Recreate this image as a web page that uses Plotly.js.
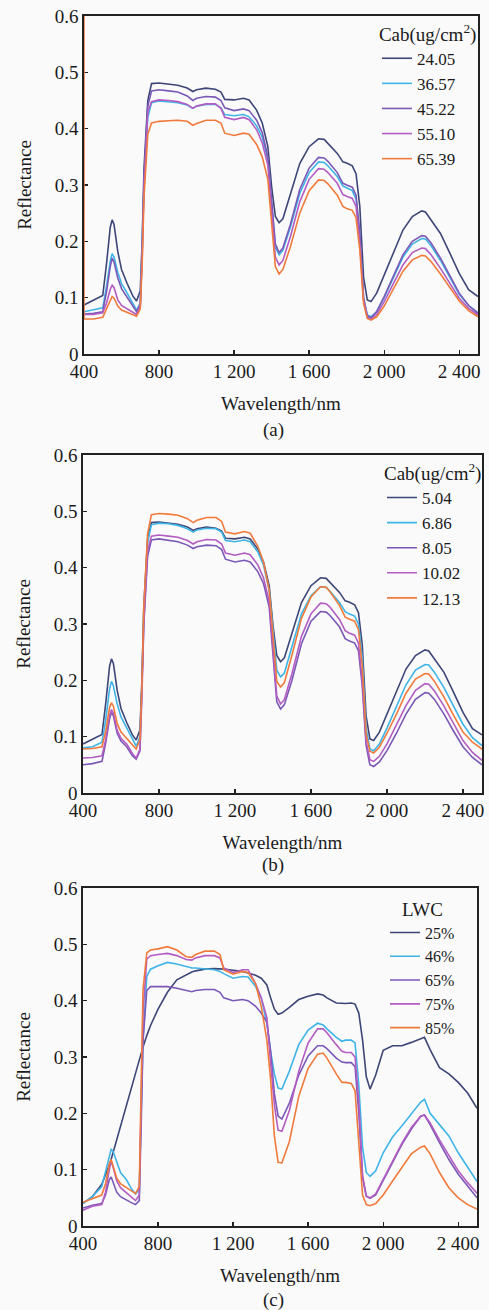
<!DOCTYPE html>
<html>
<head>
<meta charset="utf-8">
<script src="https://cdn.plot.ly/plotly-3.0.1.min.js"></script>
<style>
html,body{margin:0;padding:0;background:#fafafa;}
#chart{width:489px;height:1310px;}
</style>
</head>
<body>
<div id="chart"></div>
<script>
// Wavelength grid (nm)
const wl = [400,450,500,520,540,550,560,580,600,630,660,680,700,710,720,740,760,800,850,900,
  950,980,1000,1050,1100,1130,1150,1200,1250,1280,1320,1350,1380,1400,1420,1440,1460,1500,1550,1600,
  1650,1680,1700,1750,1780,1800,1830,1850,1870,1890,1910,1930,1960,2000,2050,2100,2150,2200,2220,2250,
  2300,2350,2400,2450,2500];

// Panel (a) Cab series
const namesA = ['24.05','36.57','45.22','55.10','65.39'];
const a1 = [.087,.095,.104,.160,.225,.238,.230,.182,.150,.125,.103,.094,.112,.200,.330,.450,.480,.481,.479,.477,
  .472,.466,.469,.472,.470,.465,.452,.451,.454,.451,.433,.410,.368,.297,.244,.233,.240,.285,.338,.368,
  .382,.381,.374,.356,.341,.339,.334,.320,.262,.137,.096,.093,.108,.140,.180,.220,.244,.254,.252,.238,
  .214,.179,.143,.114,.102];
const a2 = [.075,.078,.082,.120,.165,.178,.172,.145,.125,.108,.090,.078,.090,.180,.300,.420,.446,.449,.448,.446,
  .442,.436,.440,.443,.443,.437,.425,.423,.425,.421,.405,.385,.345,.270,.190,.176,.184,.225,.285,.322,
  .341,.340,.334,.315,.298,.295,.290,.275,.210,.100,.069,.066,.075,.100,.135,.172,.195,.205,.204,.192,
  .166,.135,.106,.086,.073];
const a3 = [.071,.072,.075,.110,.155,.170,.163,.135,.116,.100,.084,.075,.088,.180,.310,.440,.467,.469,.467,.465,
  .458,.450,.454,.457,.456,.450,.437,.432,.435,.432,.415,.393,.350,.275,.195,.180,.188,.230,.292,.330,
  .349,.348,.342,.322,.303,.300,.296,.282,.215,.100,.068,.064,.075,.102,.138,.176,.200,.210,.209,.197,
  .170,.138,.108,.086,.072];
const a4 = [.070,.070,.073,.090,.115,.122,.118,.096,.086,.080,.074,.070,.085,.170,.300,.430,.448,.451,.450,.448,
  .443,.436,.440,.444,.444,.436,.420,.416,.420,.416,.398,.375,.335,.255,.172,.158,.166,.208,.270,.310,
  .329,.328,.322,.303,.283,.280,.276,.262,.200,.095,.065,.062,.070,.093,.125,.158,.180,.188,.187,.176,
  .152,.125,.099,.081,.069];
const a5Top = 0.6;
const a5 = [.062,.062,.065,.080,.097,.102,.099,.085,.078,.074,.070,.067,.080,.160,.280,.390,.410,.413,.414,.415,
  .413,.406,.409,.415,.415,.410,.392,.388,.392,.390,.372,.350,.310,.235,.155,.142,.150,.190,.250,.290,
  .309,.308,.302,.282,.262,.258,.255,.242,.185,.090,.063,.060,.066,.085,.115,.147,.167,.175,.174,.164,
  .142,.117,.094,.077,.066];

// Panel (b) Cab series
const namesB = ['5.04','6.86','8.05','10.02','12.13'];
const b1 = [.087,.095,.104,.160,.225,.238,.230,.182,.150,.125,.103,.094,.112,.200,.330,.450,.480,.481,.479,.477,
  .472,.466,.469,.472,.470,.465,.452,.451,.454,.451,.433,.410,.368,.297,.244,.233,.240,.285,.338,.368,
  .382,.381,.374,.356,.341,.339,.334,.320,.262,.137,.096,.093,.108,.140,.180,.220,.244,.254,.252,.238,
  .214,.179,.143,.114,.103];
const b2 = [.080,.082,.090,.130,.185,.198,.190,.158,.135,.115,.095,.083,.100,.190,.320,.445,.476,.479,.478,.475,
  .469,.463,.467,.470,.469,.463,.448,.446,.449,.446,.428,.405,.360,.285,.218,.206,.213,.260,.318,.350,
  .366,.365,.358,.338,.322,.318,.314,.300,.240,.115,.078,.075,.087,.115,.152,.192,.218,.228,.227,.214,
  .187,.155,.122,.098,.084];
const b3 = [.050,.052,.056,.090,.132,.143,.137,.106,.092,.082,.066,.060,.075,.170,.300,.420,.449,.451,.449,.446,
  .440,.434,.437,.440,.439,.432,.415,.410,.413,.410,.393,.372,.330,.245,.162,.149,.157,.200,.265,.305,
  .322,.321,.315,.295,.274,.270,.266,.252,.190,.085,.050,.047,.055,.075,.106,.140,.166,.178,.177,.166,
  .140,.110,.082,.063,.050];
const b4 = [.062,.063,.066,.095,.138,.148,.142,.111,.097,.087,.070,.062,.078,.170,.300,.430,.456,.458,.456,.454,
  .448,.442,.446,.450,.449,.442,.426,.422,.426,.423,.405,.382,.340,.255,.172,.158,.166,.212,.278,.318,
  .337,.336,.330,.308,.288,.284,.280,.266,.200,.092,.059,.056,.065,.087,.120,.155,.182,.194,.193,.181,
  .154,.123,.093,.072,.058];
const b5 = [.078,.079,.082,.110,.152,.160,.154,.123,.108,.097,.086,.078,.095,.190,.330,.460,.494,.496,.495,.493,
  .487,.480,.484,.489,.489,.482,.463,.460,.464,.461,.438,.410,.360,.275,.198,.188,.196,.245,.310,.348,
  .366,.365,.357,.333,.312,.309,.305,.290,.225,.105,.074,.071,.081,.106,.140,.177,.202,.212,.211,.198,
  .170,.138,.108,.090,.078];

// Panel (c) LWC series
const namesC = ['25%','46%','65%','75%','85%'];
const c1 = [.040,.052,.074,.090,.108,.118,.130,.153,.177,.212,.248,.271,.295,.307,.318,.338,.356,.385,.415,.437,
  .446,.451,.453,.456,.457,.457,.456,.454,.452,.449,.445,.440,.428,.405,.385,.376,.378,.388,.402,.408,
  .412,.410,.405,.396,.395,.395,.396,.394,.378,.330,.265,.243,.268,.312,.320,.320,.326,.333,.335,.313,
  .281,.270,.255,.236,.209];
const c2 = [.040,.052,.070,.095,.125,.136,.133,.112,.095,.083,.065,.057,.065,.200,.330,.443,.456,.462,.468,.465,
  .461,.458,.458,.457,.455,.452,.448,.440,.443,.442,.425,.405,.360,.310,.270,.245,.243,.275,.322,.348,
  .360,.357,.350,.335,.328,.330,.330,.325,.250,.140,.095,.088,.098,.130,.158,.178,.198,.220,.225,.200,
  .180,.160,.130,.105,.079];
const c3 = [.032,.037,.040,.055,.082,.087,.078,.060,.052,.046,.041,.038,.045,.180,.330,.418,.425,.425,.425,.422,
  .418,.416,.418,.420,.420,.415,.405,.400,.402,.400,.390,.378,.362,.310,.235,.195,.190,.218,.268,.302,
  .320,.320,.315,.298,.291,.290,.290,.283,.200,.085,.053,.049,.055,.080,.112,.145,.172,.195,.197,.180,
  .148,.118,.092,.070,.050];
const c4 = [.028,.035,.038,.060,.100,.115,.105,.080,.068,.060,.052,.045,.055,.200,.380,.474,.480,.482,.484,.480,
  .473,.472,.476,.480,.480,.476,.458,.450,.455,.455,.430,.405,.370,.290,.215,.170,.168,.205,.275,.325,
  .350,.350,.343,.322,.310,.308,.308,.300,.220,.090,.053,.050,.057,.083,.115,.147,.175,.195,.197,.183,
  .153,.125,.098,.077,.058];
const c5 = [.042,.048,.055,.075,.110,.118,.108,.085,.075,.068,.062,.058,.070,.250,.420,.485,.490,.492,.496,.490,
  .478,.477,.482,.488,.488,.482,.455,.447,.452,.450,.430,.390,.330,.260,.160,.113,.112,.150,.230,.280,
  .305,.307,.298,.270,.255,.255,.253,.240,.150,.055,.038,.036,.040,.055,.080,.105,.128,.140,.142,.128,
  .095,.068,.050,.038,.030];

// Axis ticks and titles
const xTickVals = [400,800,1200,1600,2000,2400];
const xTickText = ['400','800','1 200','1 600','2 000','2 400'];
const yTickVals = [0,0.1,0.2,0.3,0.4,0.5,0.6];
const yTickText = ['0','0.1','0.2','0.3','0.4','0.5','0.6'];
const legendTitles = ['Cab(ug/cm<sup>2</sup>)','Cab(ug/cm<sup>2</sup>)','LWC'];
const panelLabels = ['(a)','(b)','(c)'];

const colors = ['#3d4677','#3fb4e6','#7b58b6','#b35cc2','#f07a3c'];
const FONT = '"Liberation Serif", "Times New Roman", serif';

const panels = [
  {names:namesA, series:[a1,a2,a3,a4,a5], xa:'x', ya:'y', lg:'legend'},
  {names:namesB, series:[b1,b2,b3,b4,b5], xa:'x2', ya:'y2', lg:'legend2'},
  {names:namesC, series:[c1,c2,c3,c4,c5], xa:'x3', ya:'y3', lg:'legend3'}
];

const traces = [];
panels.forEach((p, pi) => {
  p.series.forEach((s, si) => {
    let xs = wl, ys = s;
    if (pi === 0 && si === 4) { xs = [wl[0]].concat(wl); ys = [a5Top].concat(s); }
    traces.push({
      x: xs, y: ys, type:'scatter', mode:'lines', name: p.names[si],
      xaxis: p.xa, yaxis: p.ya, legend: p.lg,
      line:{color:colors[si], width:1.6},
      hoverinfo:'skip'
    });
  });
});

function xAxis(domain, anchor){
  return {
    domain: domain, anchor: anchor, range:[400,2500],
    tickvals: xTickVals, ticktext: xTickText,
    ticks:'inside', ticklen:4, tickwidth:1.3, tickcolor:'#222',
    showline:true, mirror:true, linecolor:'#222', linewidth:1.6,
    showgrid:false, zeroline:false, automargin:false,
    tickfont:{family:FONT, size:19, color:'#1a1a1a'},
    title:{text:'Wavelength/nm', font:{family:FONT, size:19, color:'#1a1a1a'}, standoff:15}
  };
}
function yAxis(domain, anchor, layer){
  return {
    domain: domain, anchor: anchor, range:[0,0.6],
    tickvals: yTickVals, ticktext: yTickText,
    ticks:'inside', ticklen:4, tickwidth:1.3, tickcolor:'#222',
    showline:true, mirror:true, linecolor:'#222', linewidth:1.6,
    showgrid:false, zeroline:false, layer: layer, automargin:false,
    tickfont:{family:FONT, size:19, color:'#1a1a1a'},
    title:{text:'Reflectance', font:{family:FONT, size:19, color:'#1a1a1a'}, standoff:18}
  };
}
function legendAt(x, y, title, fs, side){
  const t = {text:title, font:{family:FONT, size:19, color:'#1a1a1a'}};
  if (side) t.side = side;
  return {
    x:x, y:y, xanchor:'left', yanchor:'top', bgcolor:'rgba(0,0,0,0)', borderwidth:0,
    font:{family:FONT, size:fs, color:'#1a1a1a'},
    title:t,
    tracegroupgap:0
  };
}

const layout = {
  width:489, height:1310,
  margin:{l:80, r:5, t:16, b:84, autoexpand:false},
  paper_bgcolor:'#fafafa', plot_bgcolor:'#fafafa',
  showlegend:true,
  font:{family:FONT, size:19, color:'#1a1a1a'},
  xaxis: xAxis([0.0099,0.9851],'y'),
  yaxis: yAxis([0.7207,1.0],'x','below traces'),
  xaxis2: xAxis([0.0074,0.995],'y2'),
  yaxis2: yAxis([0.3579,0.6372],'x2','above traces'),
  xaxis3: xAxis([0.0074,0.9827],'y3'),
  yaxis3: yAxis([0,0.2793],'x3','above traces'),
  legend: legendAt(0.735, 1.0, legendTitles[0], 17),
  legend2: legendAt(0.7475, 0.637, legendTitles[1], 17),
  legend3: legendAt(0.755, 0.277, legendTitles[2], 16, 'top center'),
  annotations: [
    {text:panelLabels[0], xref:'paper', yref:'paper', x:0.478, y:0.658, showarrow:false, xanchor:'center', yanchor:'middle', font:{family:FONT,size:19,color:'#1a1a1a'}},
    {text:panelLabels[1], xref:'paper', yref:'paper', x:0.478, y:0.2983, showarrow:false, xanchor:'center', yanchor:'middle', font:{family:FONT,size:19,color:'#1a1a1a'}},
    {text:panelLabels[2], xref:'paper', yref:'paper', x:0.478, y:-0.0612, showarrow:false, xanchor:'center', yanchor:'middle', font:{family:FONT,size:19,color:'#1a1a1a'}}
  ]
};

Plotly.newPlot('chart', traces, layout, {staticPlot:true, displayModeBar:false});
</script>
</body>
</html>
